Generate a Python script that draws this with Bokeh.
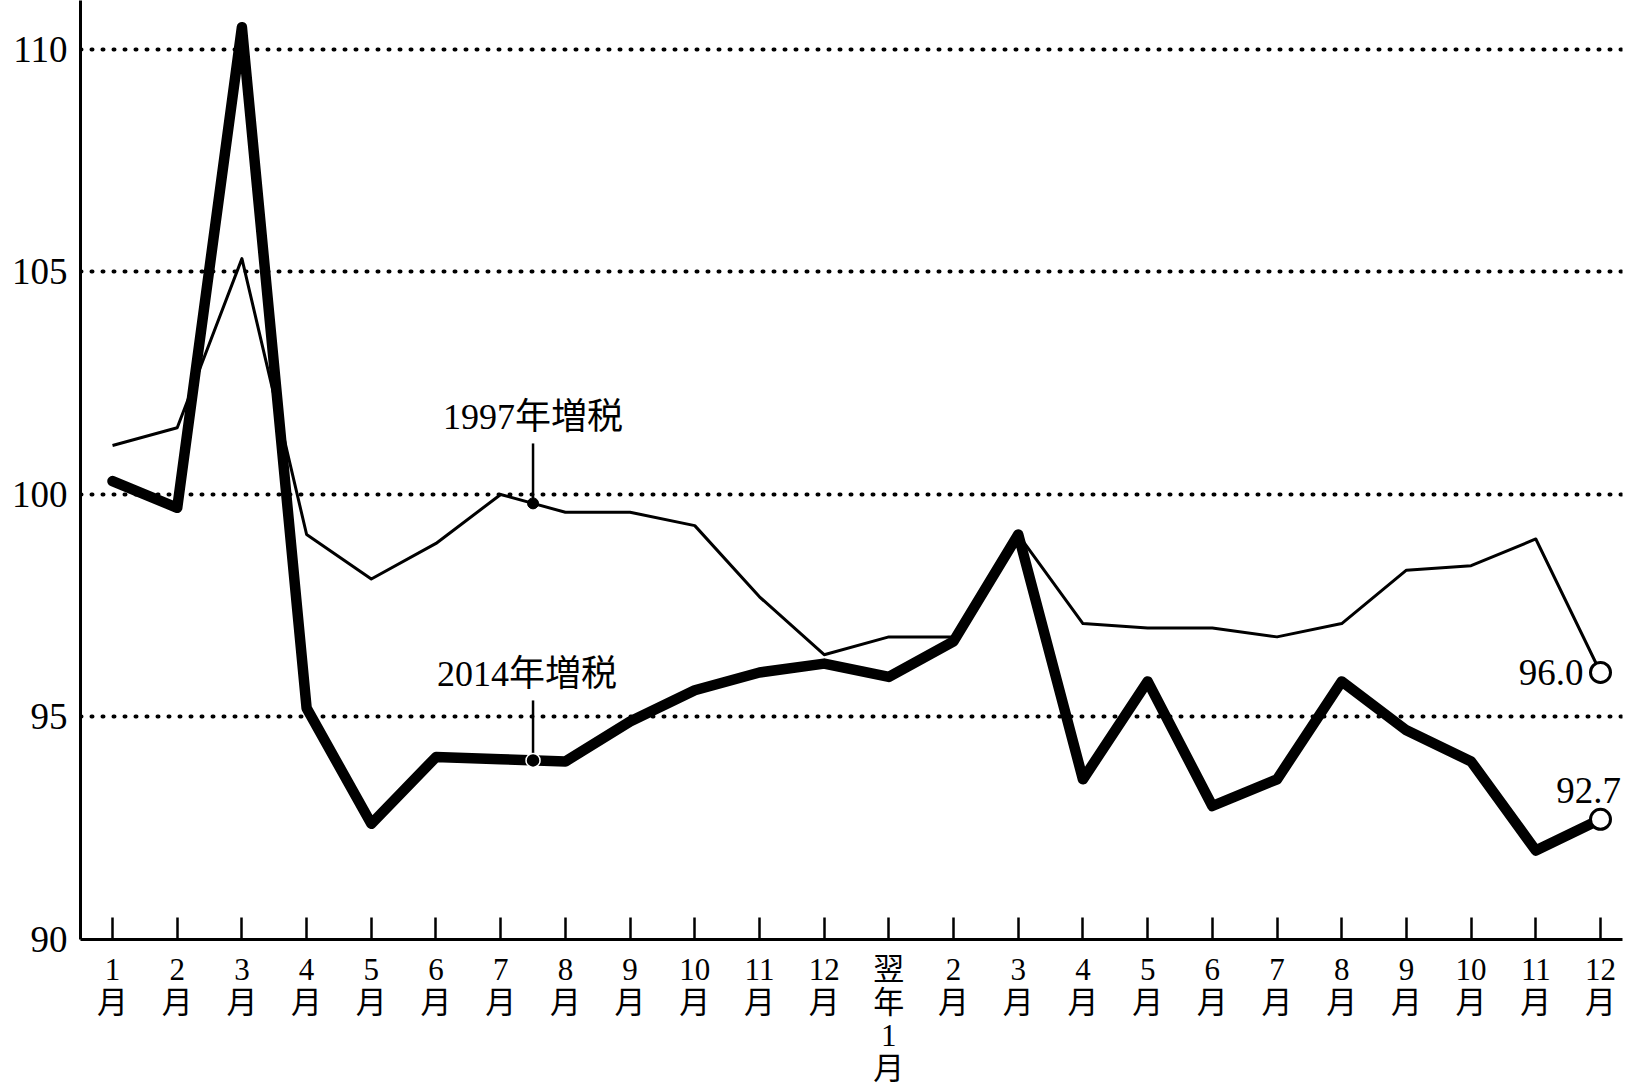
import numpy as np
from bokeh.plotting import figure
from bokeh.models import FixedTicker, Label, Range1d
from bokeh.embed import file_html
from bokeh.resources import INLINE

# ---- data ----
months = list(range(1, 25))
tick_labels = ([f"{m}\n月" for m in range(1, 13)] + ["翌\n年\n1\n月"] +
               [f"{m}\n月" for m in range(2, 13)])
tax_1997 = [101.1, 101.5, 105.3, 99.1, 98.1, 98.9, 100.0, 99.6, 99.6, 99.3, 97.7, 96.4,
            96.8, 96.8, 99.1, 97.1, 97.0, 97.0, 96.8, 97.1, 98.3, 98.4, 99.0, 96.0]
tax_2014 = [100.3, 99.7, 110.5, 95.2, 92.6, 94.1, 94.05, 94.0, 94.9, 95.6, 96.0, 96.2,
            95.9, 96.7, 99.1, 93.6, 95.8, 93.0, 93.6, 95.8, 94.7, 94.0, 92.0, 92.7]
series_names = ["1997年増税", "2014年増税"]
annot_x = 7.5
y_ticks = [90, 95, 100, 105, 110]
grid_ticks = [95, 100, 105, 110]

FONT = "Liberation Serif, Noto Sans CJK JP"
PX_PER_UNIT = 44.55

p = figure(width=1630, height=1089, output_backend="svg", toolbar_location=None,
           x_range=Range1d(0.505, 24.34), y_range=Range1d(90, 111.1),
           min_border_left=80, min_border_right=8, min_border_top=0, min_border_bottom=149)
p.outline_line_color = None
p.background_fill_color = "white"
p.border_fill_color = "white"

# axes
p.xaxis.ticker = FixedTicker(ticks=months)
p.xaxis.major_label_overrides = {m: lab for m, lab in zip(months, tick_labels)}
p.xaxis.major_tick_in = 22
p.xaxis.major_tick_out = 0
p.xaxis.minor_tick_line_color = None
p.xaxis.major_tick_line_width = 2.5
p.xaxis.major_tick_line_color = "black"
p.xaxis.axis_line_width = 3
p.xaxis.axis_line_color = "black"
p.xaxis.major_label_text_font = FONT
p.xaxis.major_label_text_font_size = "31px"
p.xaxis.major_label_text_color = "black"
p.xaxis.major_label_text_line_height = 0.95
p.xaxis.major_label_standoff = 12

p.yaxis.ticker = FixedTicker(ticks=y_ticks)
p.yaxis.major_tick_in = 0
p.yaxis.major_tick_out = 0
p.yaxis.minor_tick_line_color = None
p.yaxis.axis_line_width = 3
p.yaxis.axis_line_color = "black"
p.yaxis.major_label_text_font = FONT
p.yaxis.major_label_text_font_size = "37px"
p.yaxis.major_label_text_color = "black"
p.yaxis.major_label_standoff = 13

p.xgrid.grid_line_color = None
p.ygrid.ticker = FixedTicker(ticks=grid_ticks)
p.ygrid.grid_line_color = "black"
p.ygrid.grid_line_width = 4
p.ygrid.grid_line_dash = "1 10"
p.ygrid.grid_line_cap = "round"

# series
p.line(months, tax_1997, line_color="black", line_width=3, line_join="round")
p.line(months, tax_2014, line_color="black", line_width=10.5, line_join="round", line_cap="round")

# end markers and labels
p.scatter([months[-1]], [tax_1997[-1]], size=20, fill_color="white", line_color="black", line_width=3)
p.scatter([months[-1]], [tax_2014[-1]], size=20, fill_color="white", line_color="black", line_width=3)
p.add_layout(Label(x=months[-1], y=tax_1997[-1], text=f"{tax_1997[-1]:.1f}", x_offset=-17,
                   text_align="right", text_baseline="middle", text_font=FONT,
                   text_font_size="37px", text_color="black"))
p.add_layout(Label(x=months[-1], y=tax_2014[-1], text=f"{tax_2014[-1]:.1f}", x_offset=-12,
                   y_offset=16, text_align="center", text_baseline="bottom", text_font=FONT,
                   text_font_size="37px", text_color="black"))

# pointer annotations
for series, name, dx, size, outline, lw in [(tax_1997, series_names[0], 0, 11, "black", 1),
                                            (tax_2014, series_names[1], -6, 14, "white", 1.5)]:
    yv = float(np.interp(annot_x, months, series))
    p.segment(x0=[annot_x], y0=[yv], x1=[annot_x], y1=[yv + 60 / PX_PER_UNIT],
              line_color="black", line_width=2.5)
    p.scatter([annot_x], [yv], size=size, fill_color="black", line_color=outline, line_width=lw)
    p.add_layout(Label(x=annot_x, y=yv, text=name, x_offset=dx, y_offset=86,
                       text_align="center", text_baseline="middle", text_font=FONT,
                       text_font_size="36px", text_color="black"))

open("out.html", "w").write(file_html(p, INLINE))
